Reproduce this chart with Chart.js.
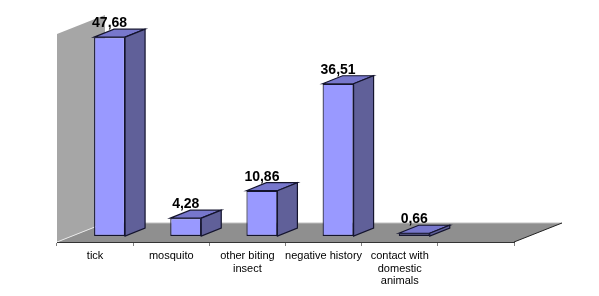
<!DOCTYPE html>
<html><head><meta charset="utf-8">
<script src="https://cdn.jsdelivr.net/npm/chart.js@4"></script>
<style>html,body{margin:0;padding:0;background:#fff}canvas{display:block}</style>
</head><body><canvas id="c" width="599" height="296"></canvas>
<script>
const categories = ['tick', 'mosquito', ['other biting', 'insect'], 'negative history', ['contact with', 'domestic', 'animals'], ''];
const values = [47.68, 4.28, 10.86, 36.51, 0.66, null];
const axisMin = -1.44, axisMax = 48.44;
const depth = {x: 48, y: 19};       // full depth of the 3D box
const barDepth = {x: 20, y: 8};     // depth of a single bar
const barShift = 14.5;              // bars stand mid-way in the floor's depth
const colors = {wall: '#a6a6a6', floor: '#8f8f8f', front: '#9999ff', top: '#7777cc', side: '#606099', edge: '#14142e'};

function poly(ctx, pts, fill, stroke, lw) {
  ctx.beginPath();
  pts.forEach((p, i) => i ? ctx.lineTo(p[0], p[1]) : ctx.moveTo(p[0], p[1]));
  ctx.closePath();
  if (fill) { ctx.fillStyle = fill; ctx.fill(); }
  if (stroke) { ctx.strokeStyle = stroke; ctx.lineWidth = lw || 1; ctx.stroke(); }
}

const box3d = {
  id: 'box3d',
  beforeDraw(chart) {
    const {ctx, chartArea: a} = chart;
    const dx = depth.x, dy = depth.y;
    ctx.save();
    poly(ctx, [[a.left, a.top], [a.left + dx, a.top - dy], [a.left + dx, a.bottom - dy], [a.left, a.bottom]], colors.wall);
    poly(ctx, [[a.left, a.bottom], [a.left + dx, a.bottom - dy], [a.right + dx, a.bottom - dy], [a.right, a.bottom]], colors.floor);
    ctx.lineWidth = 1;
    ctx.strokeStyle = '#e8e8e8';
    ctx.beginPath();
    ctx.moveTo(a.left, a.bottom); ctx.lineTo(a.left + dx, a.bottom - dy);
    ctx.stroke();
    ctx.strokeStyle = '#c0c0c0';
    ctx.beginPath();
    ctx.moveTo(a.left + dx, a.bottom - dy); ctx.lineTo(a.right + dx, a.bottom - dy);
    ctx.stroke();
    ctx.strokeStyle = '#222';
    ctx.beginPath();
    ctx.moveTo(a.right, a.bottom); ctx.lineTo(a.right + dx, a.bottom - dy);
    ctx.stroke();
    ctx.restore();
  },
  beforeDatasetDraw(chart) {
    chart.ctx.save();
    chart.ctx.translate(barShift, 0);
  },
  afterDatasetDraw(chart, args) {
    const ctx = chart.ctx;
    const dx = barDepth.x, dy = barDepth.y;
    args.meta.data.forEach((bar, i) => {
      if (values[i] == null) return;
      const l = bar.x - bar.width / 2, r = bar.x + bar.width / 2, t = bar.y, b = bar.base;
      poly(ctx, [[l, t], [l + dx, t - dy], [r + dx, t - dy], [r, t]], colors.top, colors.edge, 1.2);
      poly(ctx, [[r, t], [r + dx, t - dy], [r + dx, b - dy], [r, b]], colors.side, colors.edge, 1.2);
      ctx.fillStyle = '#000';
      ctx.font = 'bold 14px "Liberation Sans", Arial, sans-serif';
      ctx.textAlign = 'center'; ctx.textBaseline = 'middle';
      ctx.fillText(values[i].toFixed(2).replace('.', ','), bar.x, t - 14);
    });
    ctx.restore();
  }
};

new Chart(document.getElementById('c'), {
  type: 'bar',
  data: {
    labels: categories,
    datasets: [{
      data: values,
      backgroundColor: colors.front,
      borderColor: colors.edge,
      borderWidth: 1.2,
      borderSkipped: false,
      barPercentage: 1,
      categoryPercentage: 0.407,
      clip: false
    }]
  },
  options: {
    responsive: false,
    animation: false,
    layout: {padding: {left: 57, right: 85, top: 34, bottom: 0}},
    plugins: {legend: {display: false}, tooltip: {enabled: false}},
    scales: {
      x: {
        grid: {drawOnChartArea: false, drawTicks: true, tickLength: 4, color: '#808080', offset: true},
        border: {color: '#333', width: 1},
        ticks: {
          color: '#000', maxRotation: 0, autoSkip: false, padding: 4,
          font: {family: '"Liberation Sans", Arial, sans-serif', size: 11, lineHeight: 1.12}
        },
        afterFit(s) { s.height = 54; }
      },
      y: {display: false, min: axisMin, max: axisMax}
    }
  },
  plugins: [box3d]
});
</script></body></html>
